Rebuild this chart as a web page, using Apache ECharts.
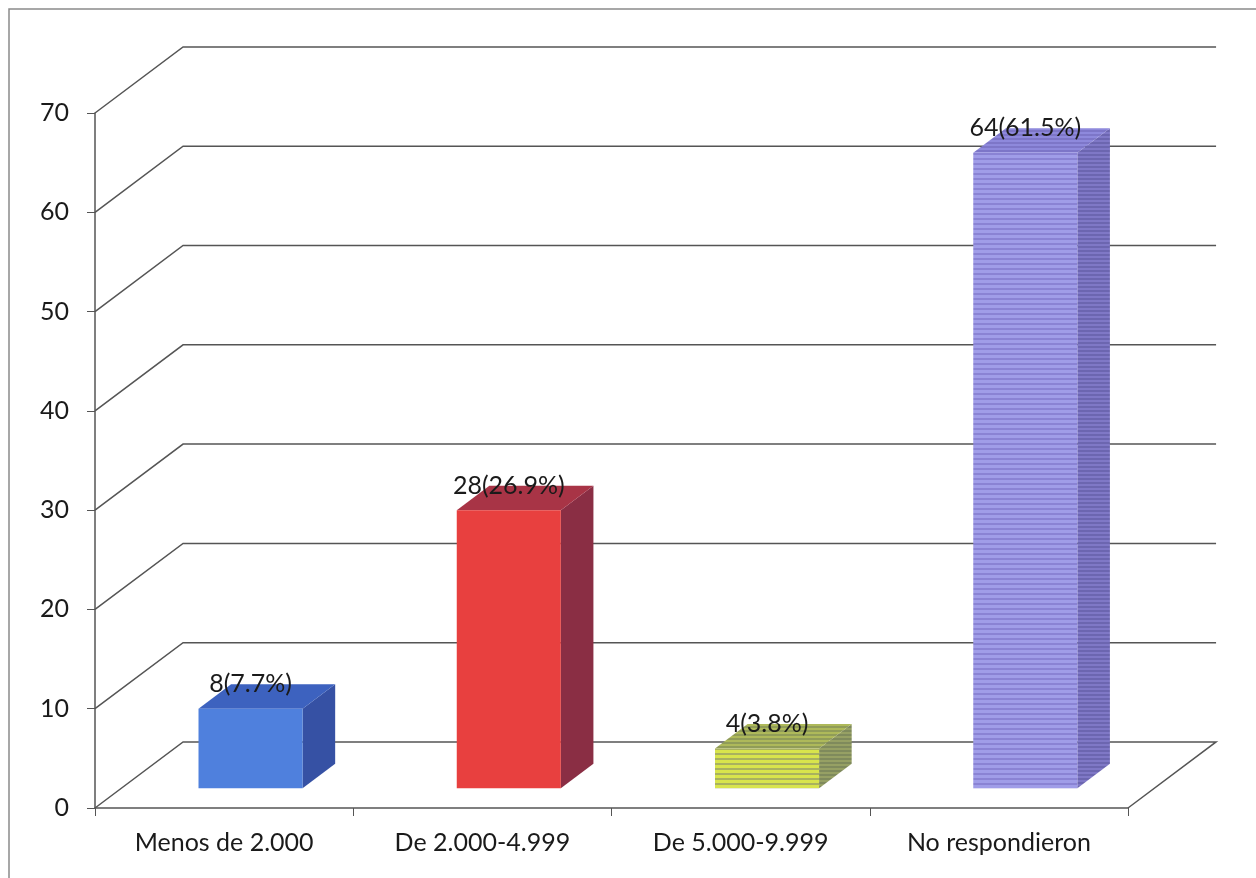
<!DOCTYPE html>
<html><head><meta charset="utf-8">
<script src="https://cdn.jsdelivr.net/npm/echarts@6/dist/echarts.min.js"></script>
<style>html,body{margin:0;padding:0;background:#fff}#c{width:1256px;height:878px}</style>
</head><body><div id="c"></div>
<script>
const categories = ['Menos de 2.000', 'De 2.000-4.999', 'De 5.000-9.999', 'No respondieron'];
const values = [8, 28, 4, 64];
const valueLabels = ['8(7.7%)', '28(26.9%)', '4(3.8%)', '64(61.5%)'];
const yTicks = [0, 10, 20, 30, 40, 50, 60, 70];

function stripes(a, b, period, bh) {
  const c = document.createElement('canvas');
  c.width = 8; c.height = period;
  const g = c.getContext('2d');
  g.fillStyle = a; g.fillRect(0, 0, 8, period);
  g.fillStyle = b; g.fillRect(0, period - bh, 8, bh);
  return { image: c, repeat: 'repeat' };
}

const barStyles = [
  { front: '#4f80dd', top: '#3d62bf', side: '#3651a4' },
  { front: '#e8403f', top: '#a83446', side: '#8a2e44' },
  { front: stripes('#d8e44c', '#a9b25e', 5, 2), top: stripes('#aeb95a', '#909c58', 4, 2), side: stripes('#96a064', '#7f8a5c', 4, 2) },
  { front: stripes('#a09de8', '#8a83d4', 5, 2), top: stripes('#8e89dc', '#7d76c8', 4, 2), side: stripes('#7f78c6', '#6c66b0', 4, 2) }
];

const DEPTH = 0.341;   // floor depth as fraction of category band
const SLOPE = 0.75;    // vertical/horizontal ratio of the depth
const lineColor = '#555555';
const FONT = 'Lato';

const chart = echarts.init(document.getElementById('c'));
chart.setOption({
  backgroundColor: '#ffffff',
  animation: false,
  grid: { left: 95, right: 128, top: 113, bottom: 70 },
  graphic: [{
    type: 'rect', silent: true, z: -10,
    shape: { x: 9, y: 9, width: 1400, height: 1000 },
    style: { fill: 'none', stroke: '#8a8a8a', lineWidth: 1.5 }
  }],
  xAxis: {
    type: 'category',
    data: categories,
    axisLine: { show: true, lineStyle: { color: lineColor, width: 1.5 } },
    axisTick: { show: true, length: 8, lineStyle: { color: lineColor } },
    axisLabel: { fontSize: 25, color: '#1a1a1a', margin: 22, fontFamily: FONT },
    splitLine: { show: false }
  },
  yAxis: {
    type: 'value',
    min: 0, max: 70, interval: 10,
    axisLine: { show: true, lineStyle: { color: lineColor, width: 1.5 } },
    axisTick: { show: true, length: 8, lineStyle: { color: lineColor } },
    axisLabel: { fontSize: 25, color: '#1a1a1a', margin: 26, fontFamily: FONT },
    splitLine: { show: false }
  },
  series: [
    {
      type: 'custom',
      silent: true,
      clip: false,
      z: 1,
      data: yTicks.map(v => [0, v]),
      renderItem: function (params, api) {
        const v = api.value(1);
        const bw = api.size([1, 0])[0];
        const left = api.coord([0, v])[0] - bw / 2;
        const right = api.coord([categories.length - 1, v])[0] + bw / 2;
        const y = api.coord([0, v])[1];
        const dx = bw * DEPTH, dy = -dx * SLOPE;
        const pts = [[left, y], [left + dx, y + dy], [right + dx, y + dy]];
        if (v === 0) pts.push([right, y]);
        return {
          type: 'polyline',
          shape: { points: pts },
          style: { stroke: lineColor, lineWidth: 1.5, fill: null }
        };
      }
    },
    {
      type: 'custom',
      clip: false,
      z: 5,
      data: values.map((v, i) => [i, v]),
      renderItem: function (params, api) {
        const i = api.value(0), v = api.value(1);
        const bw = api.size([1, 0])[0];
        const D = bw * DEPTH;
        const ox = D * 0.3, oy = -D * SLOPE * 0.3;
        const w = bw * 0.403;
        const ddx = D * 0.37, ddy = -D * SLOPE * 0.37;
        const base = api.coord([i, 0]);
        const topP = api.coord([i, v]);
        const x0 = base[0] - w / 2 + ox;
        const yb = base[1] + oy;
        const yt = topP[1] + oy;
        const st = barStyles[params.dataIndex];
        return {
          type: 'group',
          children: [
            {
              type: 'polygon',
              shape: { points: [[x0 + w, yt], [x0 + w + ddx, yt + ddy], [x0 + w + ddx, yb + ddy], [x0 + w, yb]] },
              style: { fill: st.side }
            },
            {
              type: 'polygon',
              shape: { points: [[x0, yt], [x0 + w, yt], [x0 + w + ddx, yt + ddy], [x0 + ddx, yt + ddy]] },
              style: { fill: st.top }
            },
            {
              type: 'rect',
              shape: { x: x0, y: yt, width: w, height: yb - yt },
              style: { fill: st.front }
            },
            {
              type: 'text',
              z2: 10,
              style: {
                x: x0 + w / 2, y: yt + ddy,
                text: valueLabels[params.dataIndex],
                align: 'center', verticalAlign: 'middle',
                fontSize: 25, fontFamily: FONT, fill: '#1a1a1a'
              }
            }
          ]
        };
      }
    }
  ]
});
</script>
</body></html>
